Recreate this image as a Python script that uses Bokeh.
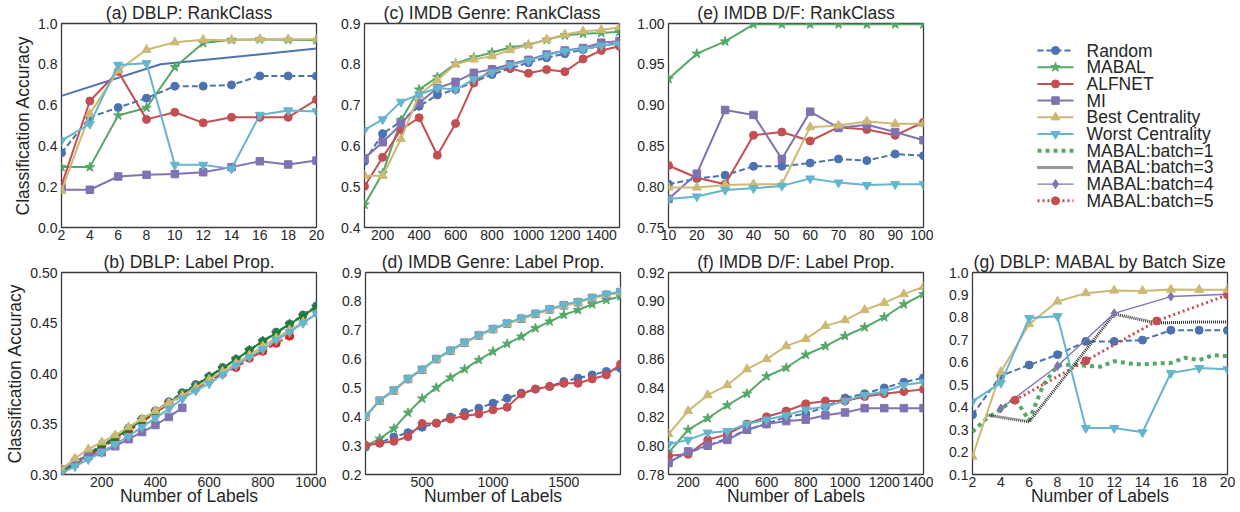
from bokeh.plotting import figure
from bokeh.models import Range1d, FixedTicker, PrintfTickFormatter
from bokeh.layouts import column, row
from bokeh.embed import file_html
from bokeh.resources import INLINE
from bokeh.core.properties import value

FONT = "Liberation Sans"
TXT = "#262626"
BLUE, GREEN, RED, PURPLE, YELLOW, CYAN = "#4C72B0", "#55A868", "#C44E52", "#8172B2", "#CCB974", "#64B5CD"
DKGREEN, BRIGHTRED = "#1d7f1d", "#e8201c"

# ---------------- data ----------------
# (a) DBLP: RankClass
a_x = [2, 4, 6, 8, 10, 12, 14, 16, 18, 20]
a_random = [0.366, 0.54, 0.588, 0.634, 0.693, 0.693, 0.699, 0.743, 0.743, 0.742]
a_mabal = [0.296, 0.296, 0.549, 0.587, 0.786, 0.904, 0.92, 0.922, 0.92, 0.918]
a_alfnet = [0.206, 0.62, 0.765, 0.53, 0.565, 0.513, 0.54, 0.54, 0.54, 0.627]
a_mi = [0.185, 0.185, 0.25, 0.258, 0.262, 0.271, 0.296, 0.325, 0.309, 0.328]
a_best = [0.18, 0.557, 0.77, 0.871, 0.908, 0.92, 0.918, 0.924, 0.923, 0.923]
a_worst = [0.426, 0.508, 0.797, 0.805, 0.307, 0.307, 0.288, 0.552, 0.574, 0.569]
a_trend_x = [2, 9, 20]
a_trend_y = [0.645, 0.80, 0.877]

# (c) IMDB Genre: RankClass
c_x = [100, 200, 300, 400, 500, 600, 700, 800, 900, 1000, 1100, 1200, 1300, 1400, 1500]
c_random = [0.562, 0.630, 0.66, 0.697, 0.725, 0.738, 0.757, 0.775, 0.79, 0.804, 0.816, 0.826, 0.836, 0.846, 0.852]
c_mabal = [0.456, 0.533, 0.663, 0.738, 0.769, 0.802, 0.817, 0.829, 0.841, 0.848, 0.860, 0.871, 0.875, 0.877, 0.880]
c_alfnet = [0.501, 0.572, 0.640, 0.669, 0.577, 0.655, 0.754, 0.787, 0.790, 0.778, 0.787, 0.782, 0.813, 0.834, 0.844]
c_mi = [0.570, 0.609, 0.653, 0.705, 0.742, 0.757, 0.779, 0.788, 0.800, 0.811, 0.824, 0.834, 0.840, 0.853, 0.857]
c_best = [0.527, 0.527, 0.617, 0.725, 0.761, 0.800, 0.812, 0.820, 0.835, 0.847, 0.861, 0.873, 0.881, 0.884, 0.891]
c_worst = [0.639, 0.665, 0.708, 0.726, 0.742, 0.738, 0.763, 0.780, 0.798, 0.809, 0.822, 0.833, 0.837, 0.846, 0.850]

# (e) IMDB D/F: RankClass
e_x = [10, 20, 30, 40, 50, 60, 70, 80, 90, 100]
e_random = [0.803, 0.810, 0.814, 0.825, 0.825, 0.829, 0.834, 0.832, 0.840, 0.838]
e_mabal = [0.932, 0.963, 0.978, 0.999, 0.999, 0.999, 0.999, 0.999, 0.999, 0.999]
e_alfnet = [0.826, 0.811, 0.803, 0.863, 0.867, 0.856, 0.873, 0.870, 0.863, 0.879]
e_mi = [0.785, 0.816, 0.894, 0.888, 0.834, 0.892, 0.872, 0.876, 0.867, 0.857]
e_best = [0.799, 0.799, 0.802, 0.803, 0.803, 0.873, 0.875, 0.880, 0.877, 0.877]
e_worst = [0.785, 0.788, 0.796, 0.798, 0.801, 0.810, 0.805, 0.802, 0.803, 0.803]

# (b) DBLP: Label Prop.
b_x = [50, 100, 150, 200, 250, 300, 350, 400, 450, 500, 550, 600, 650, 700, 750, 800, 850, 900, 950, 1000]
b_random = [0.303, 0.312, 0.321, 0.329, 0.337, 0.346, 0.355, 0.363, 0.372, 0.381, 0.389, 0.397, 0.406, 0.414, 0.423, 0.432, 0.441, 0.449, 0.458, 0.467]
b_mabal = [0.302, 0.311, 0.320, 0.328, 0.336, 0.345, 0.354, 0.362, 0.371, 0.380, 0.388, 0.397, 0.405, 0.414, 0.423, 0.432, 0.440, 0.449, 0.457, 0.466]
b_alfnet = [0.302, 0.310, 0.318, 0.327, 0.334, 0.343, 0.352, 0.361, 0.370, 0.378, 0.385, 0.393, 0.400, 0.406, 0.415, 0.422, 0.430, 0.437]
b_mi = [0.305, 0.312, 0.318, 0.322, 0.328, 0.335, 0.342, 0.349, 0.357, 0.366]
b_best = [0.305, 0.316, 0.325, 0.332, 0.339, 0.347, 0.355, 0.363, 0.371, 0.378, 0.386, 0.394, 0.402, 0.410, 0.418, 0.427, 0.435, 0.443, 0.451, 0.459]
b_worst = [0.301, 0.308, 0.315, 0.322, 0.330, 0.338, 0.347, 0.356, 0.365, 0.375, 0.383, 0.390, 0.399, 0.408, 0.416, 0.424, 0.433, 0.441, 0.450, 0.459]

# (d) IMDB Genre: Label Prop.
d_x = [100, 200, 300, 400, 500, 600, 700, 800, 900, 1000, 1100, 1200, 1300, 1400, 1500, 1600, 1700, 1800, 1900]
d_random = [0.295, 0.31, 0.33, 0.345, 0.364, 0.378, 0.399, 0.415, 0.43, 0.447, 0.464, 0.482, 0.496, 0.505, 0.522, 0.534, 0.545, 0.557, 0.568]
d_mabal = [0.298, 0.324, 0.359, 0.414, 0.463, 0.501, 0.536, 0.565, 0.597, 0.626, 0.653, 0.678, 0.707, 0.730, 0.753, 0.770, 0.790, 0.805, 0.817]
d_alfnet = [0.301, 0.308, 0.315, 0.331, 0.377, 0.378, 0.392, 0.403, 0.41, 0.424, 0.433, 0.479, 0.496, 0.505, 0.516, 0.516, 0.531, 0.545, 0.582]
d_mi = [0.401, 0.456, 0.491, 0.531, 0.563, 0.600, 0.629, 0.657, 0.682, 0.704, 0.723, 0.740, 0.757, 0.772, 0.786, 0.797, 0.812, 0.823, 0.832]
d_best = [0.400, 0.455, 0.490, 0.530, 0.562, 0.599, 0.628, 0.656, 0.681, 0.703, 0.722, 0.739, 0.756, 0.771, 0.785, 0.796, 0.811, 0.822, 0.831]
d_worst = [0.403, 0.458, 0.493, 0.533, 0.565, 0.602, 0.631, 0.659, 0.684, 0.706, 0.725, 0.742, 0.759, 0.774, 0.788, 0.799, 0.814, 0.825, 0.834]

# (f) IMDB D/F: Label Prop.
f_x = [100, 200, 300, 400, 500, 600, 700, 800, 900, 1000, 1100, 1200, 1300, 1400]
f_random = [0.789, 0.795, 0.800, 0.805, 0.811, 0.815, 0.820, 0.822, 0.827, 0.833, 0.836, 0.840, 0.844, 0.847]
f_mabal = [0.795, 0.811, 0.819, 0.828, 0.836, 0.848, 0.854, 0.863, 0.869, 0.876, 0.882, 0.889, 0.898, 0.905]
f_alfnet = [0.793, 0.794, 0.804, 0.808, 0.815, 0.820, 0.824, 0.829, 0.831, 0.831, 0.834, 0.836, 0.8375, 0.839]
f_mi = [0.788, 0.796, 0.800, 0.804, 0.811, 0.815, 0.817, 0.818, 0.821, 0.823, 0.826, 0.826, 0.826, 0.826]
f_best = [0.808, 0.824, 0.835, 0.842, 0.853, 0.860, 0.869, 0.874, 0.883, 0.887, 0.894, 0.899, 0.905, 0.910]
f_worst = [0.801, 0.804, 0.809, 0.810, 0.815, 0.818, 0.821, 0.825, 0.827, 0.831, 0.835, 0.8375, 0.842, 0.844]

# (g) DBLP: MABAL by Batch Size  (Random / Best / Worst same runs as panel a)
g_b1_x = [2, 3, 4, 5, 6, 7, 8, 9, 10, 11, 12, 13, 14, 15, 16, 17, 18, 19, 20]
g_b1 = [0.29, 0.35, 0.39, 0.44, 0.34, 0.50, 0.585, 0.59, 0.585, 0.58, 0.605, 0.595, 0.59, 0.595, 0.597, 0.62, 0.61, 0.632, 0.627]
g_b3_x = [3, 6, 9, 12, 15, 18, 20]
g_b3 = [0.365, 0.335, 0.575, 0.815, 0.775, 0.78, 0.78]
g_b4_x = [4, 8, 12, 16, 20]
g_b4 = [0.394, 0.583, 0.818, 0.893, 0.903]
g_b5_x = [5, 10, 15, 20]
g_b5 = [0.431, 0.607, 0.784, 0.90]

LEGEND_LABELS = ["Random", "MABAL", "ALFNET", "MI", "Best Centrality", "Worst Centrality",
                 "MABAL:batch=1", "MABAL:batch=3", "MABAL:batch=4", "MABAL:batch=5"]

# ---------------- styles ----------------
ST = {
    "Random": dict(color=BLUE, marker="circle", dash="6 3", lw=2, size=8),
    "MABAL": dict(color=GREEN, marker="star", dash="solid", lw=2, size=10),
    "ALFNET": dict(color=RED, marker="circle", dash="solid", lw=2, size=8),
    "MI": dict(color=PURPLE, marker="square", dash="solid", lw=2, size=7.5),
    "Best Centrality": dict(color=YELLOW, marker="triangle", dash="solid", lw=2, size=9),
    "Worst Centrality": dict(color=CYAN, marker="inverted_triangle", dash="solid", lw=2, size=9),
    "MABAL:batch=1": dict(color=GREEN, marker=None, dash="4 4", lw=4, size=0),
    "MABAL:batch=3": dict(color="#303030", marker=None, dash="1 1", lw=3, size=0),
    "MABAL:batch=4": dict(color=PURPLE, marker="diamond", dash="solid", lw=1.3, size=9),
    "MABAL:batch=5": dict(color=RED, marker="circle", dash="2 3", lw=3, size=8),
}


def series(p, x, y, name, color=None):
    s = ST[name]
    c = color or s["color"]
    p.line(x, y, line_color=c, line_width=s["lw"], line_dash=s["dash"])
    if s["marker"]:
        p.scatter(x, y, marker=s["marker"], size=s["size"], fill_color=c, line_color=c)


def panel(xr, yr, fh, bl, br, bt, bb, xticks, yticks, yfmt, title, xlabel=None, ylabel=None):
    p = figure(x_range=Range1d(*xr), y_range=Range1d(*yr), frame_width=255, frame_height=fh,
               min_border_left=bl, min_border_right=br, min_border_top=bt, min_border_bottom=bb,
               output_backend="svg", toolbar_location=None, tools="", title=title)
    p.title.align = "center"
    p.title.text_font = FONT
    p.title.text_font_size = "17.5px"
    p.title.text_font_style = "normal"
    p.title.text_color = TXT
    p.title.standoff = 1
    p.xgrid.visible = False
    p.ygrid.visible = False
    p.outline_line_color = "#3c3c3c"
    p.outline_line_width = 1.3
    for ax in (p.xaxis[0], p.yaxis[0]):
        ax.axis_line_color = None
        ax.major_tick_line_color = None
        ax.minor_tick_line_color = None
        ax.major_tick_out = 0
        ax.major_tick_in = 0
        ax.minor_tick_out = 0
        ax.minor_tick_in = 0
        ax.major_label_text_font = FONT
        ax.major_label_text_font_size = "14px"
        ax.major_label_text_color = TXT
        ax.axis_label_text_font = FONT
        ax.axis_label_text_font_size = "17.5px"
        ax.axis_label_text_font_style = "normal"
        ax.axis_label_text_color = TXT
    p.xaxis.major_label_standoff = 2
    p.yaxis.major_label_standoff = 4
    p.xaxis.axis_label_standoff = -4
    p.yaxis.axis_label_standoff = 2
    p.xaxis.ticker = FixedTicker(ticks=xticks)
    p.yaxis.ticker = FixedTicker(ticks=yticks)
    p.yaxis.formatter = PrintfTickFormatter(format=yfmt)
    if xlabel:
        p.xaxis.axis_label = xlabel
    if ylabel:
        p.yaxis.axis_label = ylabel
    return p


TOP_H, BOT_H = 204, 202
TOP_BT, TOP_BB = 23, 22
NL = "Number of Labels"
CA = "Classification Accuracy"

pa = panel((2, 20), (0, 1), TOP_H, 61, 10, TOP_BT, TOP_BB, a_x, [0.0, 0.2, 0.4, 0.6, 0.8, 1.0], "%.1f",
           "(a) DBLP: RankClass", ylabel=CA)
pa.line(a_trend_x, a_trend_y, line_color=BLUE, line_width=2)
for y, n in [(a_random, "Random"), (a_mabal, "MABAL"), (a_alfnet, "ALFNET"), (a_mi, "MI"),
             (a_best, "Best Centrality"), (a_worst, "Worst Centrality")]:
    series(pa, a_x, y, n)

pc = panel((100, 1500), (0.4, 0.9), TOP_H, 38, 10, TOP_BT, TOP_BB, [200, 400, 600, 800, 1000, 1200, 1400],
           [0.4, 0.5, 0.6, 0.7, 0.8, 0.9], "%.1f", "(c) IMDB Genre: RankClass")
for y, n in [(c_random, "Random"), (c_mabal, "MABAL"), (c_alfnet, "ALFNET"), (c_mi, "MI"),
             (c_best, "Best Centrality"), (c_worst, "Worst Centrality")]:
    series(pc, c_x, y, n)

pe = panel((10, 100), (0.75, 1.0), TOP_H, 39, 10, TOP_BT, TOP_BB, e_x,
           [0.75, 0.80, 0.85, 0.90, 0.95, 1.00], "%.2f", "(e) IMDB D/F: RankClass")
for y, n in [(e_random, "Random"), (e_mabal, "MABAL"), (e_alfnet, "ALFNET"), (e_mi, "MI"),
             (e_best, "Best Centrality"), (e_worst, "Worst Centrality")]:
    series(pe, e_x, y, n)

# ---- legend panel: a key drawn in a pixel-like coordinate frame (y grows downward) ----
LEG_W = 303
pl = figure(frame_width=LEG_W, frame_height=TOP_H, min_border_left=0, min_border_right=0,
            min_border_top=TOP_BT, min_border_bottom=TOP_BB,
            x_range=Range1d(0, LEG_W), y_range=Range1d(TOP_BT + TOP_H, TOP_BT),
            x_axis_location=None, y_axis_location=None,
            output_backend="svg", toolbar_location=None, tools="")
pl.xgrid.visible = False
pl.ygrid.visible = False
pl.outline_line_color = None
LEG_X0, LEG_GLYPH_W, LEG_TEXT_GAP = 104, 36, 13
LEG_Y0, LEG_PITCH = 50, 16.7
for i, n in enumerate(LEGEND_LABELS):
    s = ST[n]
    yy = LEG_Y0 + i * LEG_PITCH
    pl.line([LEG_X0, LEG_X0 + LEG_GLYPH_W], [yy, yy], line_color=s["color"], line_width=s["lw"],
            line_dash=s["dash"])
    if s["marker"]:
        pl.scatter([LEG_X0 + LEG_GLYPH_W / 2], [yy], marker=s["marker"], size=s["size"],
                   fill_color=s["color"], line_color=s["color"])
    pl.text([LEG_X0 + LEG_GLYPH_W + LEG_TEXT_GAP], [yy], text=[n], text_baseline="middle",
            text_align="left", text_font=value(FONT), text_font_size="17.5px", text_color=TXT)

BOT_BT, BOT_BB = 22, 28
pb = panel((50, 1000), (0.30, 0.50), BOT_H, 61, 10, BOT_BT, BOT_BB, [200, 400, 600, 800, 1000],
           [0.30, 0.35, 0.40, 0.45, 0.50], "%.2f", "(b) DBLP: Label Prop.", xlabel=NL, ylabel=CA)
series(pb, b_x, b_random, "Random")
series(pb, b_x[:len(b_alfnet)], b_alfnet, "Random", color=BRIGHTRED)
series(pb, b_x, b_mabal, "MABAL", color=DKGREEN)
series(pb, b_x[:len(b_mi)], b_mi, "MI")
series(pb, b_x, b_best, "Best Centrality")
series(pb, b_x, b_worst, "Worst Centrality")

pd_ = panel((100, 1900), (0.2, 0.9), BOT_H, 39, 10, BOT_BT, BOT_BB, [500, 1000, 1500],
            [0.2, 0.3, 0.4, 0.5, 0.6, 0.7, 0.8, 0.9], "%.1f", "(d) IMDB Genre: Label Prop.", xlabel=NL)
for y, n in [(d_random, "Random"), (d_mabal, "MABAL"), (d_alfnet, "ALFNET"), (d_mi, "MI"),
             (d_best, "Best Centrality"), (d_worst, "Worst Centrality")]:
    series(pd_, d_x, y, n)

pf = panel((100, 1400), (0.78, 0.92), BOT_H, 38, 10, BOT_BT, BOT_BB, [200, 400, 600, 800, 1000, 1200, 1400],
           [0.78, 0.80, 0.82, 0.84, 0.86, 0.88, 0.90, 0.92], "%.2f", "(f) IMDB D/F: Label Prop.", xlabel=NL)
for y, n in [(f_random, "Random"), (f_mabal, "MABAL"), (f_alfnet, "ALFNET"), (f_mi, "MI"),
             (f_best, "Best Centrality"), (f_worst, "Worst Centrality")]:
    series(pf, f_x, y, n)

pg = panel((2, 20), (0.1, 1.0), BOT_H, 39, 12, BOT_BT, BOT_BB, a_x,
           [0.1, 0.2, 0.3, 0.4, 0.5, 0.6, 0.7, 0.8, 0.9, 1.0], "%.1f", "(g) DBLP: MABAL by Batch Size", xlabel=NL)
series(pg, a_x, a_random, "Random")
series(pg, g_b1_x, g_b1, "MABAL:batch=1")
series(pg, g_b3_x, g_b3, "MABAL:batch=3")
series(pg, g_b4_x, g_b4, "MABAL:batch=4")
series(pg, g_b5_x, g_b5, "MABAL:batch=5")
series(pg, a_x, a_best, "Best Centrality")
series(pg, a_x, a_worst, "Worst Centrality")

layout = column(row(pa, pc, pe, pl), row(pb, pd_, pf, pg))
open("out.html", "w").write(file_html(layout, INLINE))
